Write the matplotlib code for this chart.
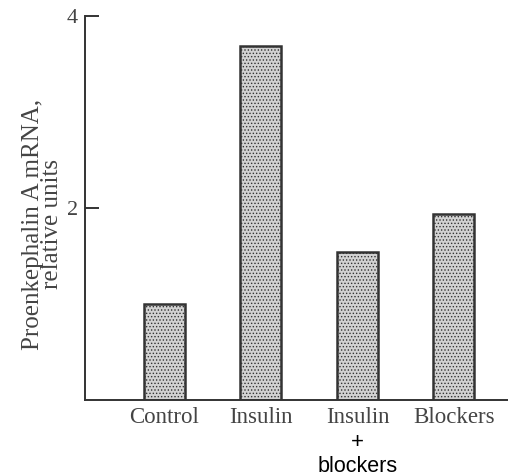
import matplotlib
matplotlib.use("Agg")
import matplotlib.pyplot as plt
from matplotlib.transforms import blended_transform_factory
import numpy as np

categories = ["Control", "Insulin", "Insulin", "Blockers"]
values = [1.0, 3.69, 1.54, 1.94]
yticks = [2, 4]
ytick_labels = ["2", "4"]
extra_lines = ["+", "blockers"]

plt.rcParams["hatch.linewidth"] = 0.6

fig = plt.figure(figsize=(5.08, 4.75), dpi=100)
ax = fig.add_axes([85/508, 1-400/475, 1-85/508, (400-16)/475])

x = np.arange(len(values))
ax.bar(x, values, width=0.425, color="#d2d2d2", edgecolor="#333333",
       linewidth=1.8, hatch=".....", zorder=2)

ax.set_xlim(-0.824, 3.56)
ax.set_ylim(0, 4)
ax.set_yticks(yticks)
ax.set_yticklabels(ytick_labels, family="Liberation Serif", fontsize=16, color="#444444")
ax.tick_params(axis="y", direction="in", length=10, width=1.4, color="#333333", pad=5)
ax.set_xticks(x)
ax.set_xticklabels(categories, family="Liberation Serif", fontsize=16.5, color="#444444")
ax.tick_params(axis="x", length=0, pad=5)

for s in ["top", "right"]:
    ax.spines[s].set_visible(False)
for s in ["left", "bottom"]:
    ax.spines[s].set_linewidth(1.4)
    ax.spines[s].set_color("#333333")

ax.set_ylabel("Proenkephalin A mRNA,\nrelative units", family="Liberation Serif",
              fontsize=18, color="#444444", linespacing=0.85)
ax.yaxis.set_label_coords(-22/423, (400-224)/384)

tr = blended_transform_factory(ax.transData, fig.transFigure)
ax.text(x[2], 1-442/475, extra_lines[0], transform=tr, ha="center", va="center",
        family="Liberation Sans", fontsize=16, color="black")
ax.text(x[2], 1-466/475, extra_lines[1], transform=tr, ha="center", va="center",
        family="Liberation Sans", fontsize=15.5, color="black")

fig.savefig("out.png", dpi=100)
